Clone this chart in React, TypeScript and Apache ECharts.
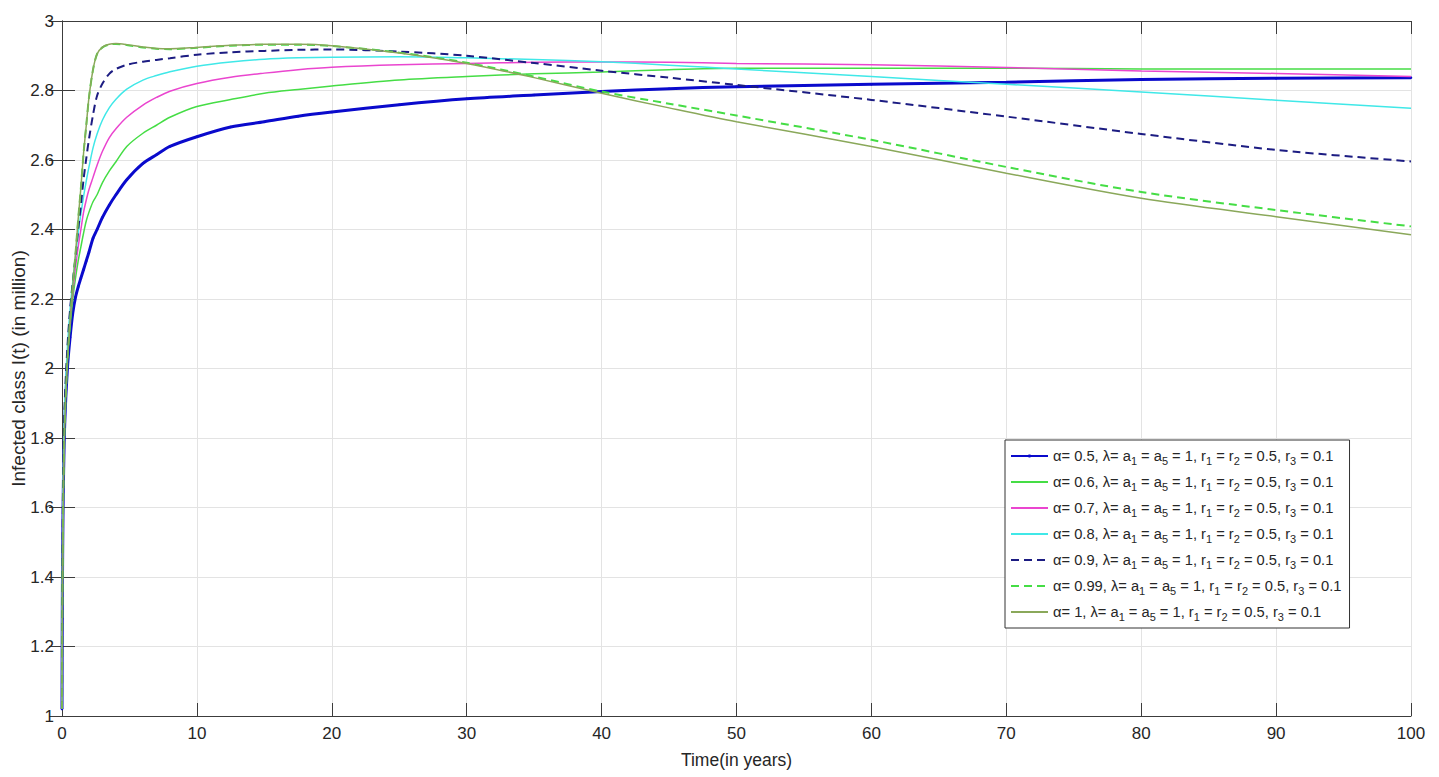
import React, { useEffect, useRef } from 'react';
import * as echarts from 'echarts';

// time (years)
const time = [0, 0.02, 0.05, 0.1, 0.2, 0.4, 0.6, 0.8, 1.0, 1.2, 1.4, 1.6, 1.8, 2.0, 2.3, 2.6, 3.0, 3.5, 4.0, 4.8, 6.0, 7.0, 8.0, 10, 12.5, 15, 17.5, 20, 25, 30, 35, 40, 45, 50, 60, 70, 80, 90, 100];

// Infected class I(t) (in million) per fractional order alpha
const alpha05 = [1.02, 1.28, 1.48, 1.66, 1.84, 2.00, 2.09, 2.16, 2.205, 2.235, 2.26, 2.285, 2.31, 2.335, 2.375, 2.40, 2.435, 2.47, 2.50, 2.543, 2.59, 2.615, 2.639, 2.667, 2.695, 2.71, 2.726, 2.738, 2.759, 2.776, 2.787, 2.797, 2.805, 2.811, 2.818, 2.824, 2.832, 2.835, 2.837];
const alpha06 = [1.02, 1.3, 1.5, 1.68, 1.86, 2.02, 2.12, 2.2, 2.26, 2.31, 2.35, 2.39, 2.425, 2.45, 2.48, 2.50, 2.535, 2.568, 2.595, 2.639, 2.677, 2.70, 2.723, 2.754, 2.774, 2.792, 2.803, 2.813, 2.83, 2.84, 2.848, 2.853, 2.86, 2.864, 2.864, 2.864, 2.862, 2.862, 2.862];
const alpha07 = [1.02, 1.3, 1.52, 1.7, 1.88, 2.04, 2.14, 2.22, 2.29, 2.35, 2.40, 2.45, 2.485, 2.515, 2.55, 2.585, 2.625, 2.664, 2.69, 2.723, 2.758, 2.78, 2.798, 2.82, 2.838, 2.85, 2.86, 2.867, 2.874, 2.878, 2.881, 2.882, 2.881, 2.878, 2.874, 2.866, 2.856, 2.849, 2.840];
const alpha08 = [1.02, 1.3, 1.52, 1.72, 1.9, 2.06, 2.17, 2.25, 2.32, 2.39, 2.445, 2.495, 2.54, 2.58, 2.635, 2.675, 2.715, 2.75, 2.775, 2.804, 2.83, 2.843, 2.854, 2.87, 2.882, 2.89, 2.894, 2.896, 2.897, 2.894, 2.889, 2.883, 2.873, 2.862, 2.84, 2.818, 2.796, 2.772, 2.749];
const alpha09 = [1.02, 1.3, 1.52, 1.72, 1.9, 2.06, 2.17, 2.25, 2.32, 2.40, 2.47, 2.545, 2.605, 2.66, 2.73, 2.785, 2.82, 2.848, 2.862, 2.874, 2.883, 2.888, 2.893, 2.903, 2.91, 2.914, 2.917, 2.918, 2.912, 2.90, 2.879, 2.857, 2.837, 2.816, 2.773, 2.725, 2.675, 2.629, 2.596];
const alpha099 = [1.02, 1.25, 1.45, 1.64, 1.84, 2.02, 2.14, 2.24, 2.33, 2.43, 2.52, 2.62, 2.70, 2.78, 2.86, 2.905, 2.924, 2.932, 2.934, 2.931, 2.924, 2.92, 2.919, 2.923, 2.929, 2.932, 2.932, 2.928, 2.909, 2.88, 2.84, 2.797, 2.762, 2.728, 2.658, 2.58, 2.508, 2.456, 2.409];
const alpha10 = [1.02, 1.25, 1.45, 1.64, 1.84, 2.02, 2.14, 2.24, 2.33, 2.43, 2.52, 2.62, 2.70, 2.78, 2.86, 2.905, 2.925, 2.933, 2.935, 2.932, 2.925, 2.921, 2.92, 2.924, 2.93, 2.933, 2.933, 2.929, 2.908, 2.878, 2.837, 2.792, 2.75, 2.71, 2.639, 2.562, 2.49, 2.437, 2.385];

const alphaLabels = ['0.5', '0.6', '0.7', '0.8', '0.9', '0.99', '1'];
const xAxisTitle = 'Time(in years)';
const yAxisTitle = 'Infected class I(t) (in million)';

const FONT = '"Liberation Sans", Arial, Helvetica, sans-serif';
const AXIS_COLOR = '#3c3c3c';
const TEXT_COLOR = '#262626';

export default function App() {
  const ref = useRef<HTMLDivElement>(null);

  useEffect(() => {
    if (!ref.current) return;
    const chart = echarts.init(ref.current, null, { renderer: 'svg' });

    const defs = [
      { data: alpha05, color: '#0a0acc', width: 3, dash: 'solid' as any, symbol: 'circle' },
      { data: alpha06, color: '#45dd45', width: 1.5, dash: 'solid' as any, symbol: 'none' },
      { data: alpha07, color: '#ea45cf', width: 1.5, dash: 'solid' as any, symbol: 'none' },
      { data: alpha08, color: '#40e8e8', width: 1.5, dash: 'solid' as any, symbol: 'none' },
      { data: alpha09, color: '#1c1c82', width: 2, dash: [8, 5] as any, symbol: 'none' },
      { data: alpha099, color: '#45dd45', width: 2, dash: [8, 5] as any, symbol: 'none' },
      { data: alpha10, color: '#8aa85a', width: 1.5, dash: 'solid' as any, symbol: 'none' },
    ];

    const series = defs.map((d, i) => ({
      name: 'α= ' + alphaLabels[i],
      type: 'line',
      xAxisIndex: 0,
      yAxisIndex: 0,
      data: time.map((t, k) => [t, d.data[k]]),
      smooth: 0.3,
      symbol: d.symbol,
      symbolSize: 2.5,
      showSymbol: d.symbol !== 'none',
      itemStyle: { color: d.color },
      lineStyle: { color: d.color, width: d.width, type: d.dash },
      z: 2 + i,
    }));

    const axisCommon = {
      axisLine: { show: true, lineStyle: { color: AXIS_COLOR, width: 1 } },
      axisTick: { show: true, inside: true, length: 13, lineStyle: { color: AXIS_COLOR, width: 1 } },
    };

    chart.setOption({
      animation: false,
      backgroundColor: '#ffffff',
      grid: { left: 62, top: 21, width: 1349, height: 695, containLabel: false, outerBoundsMode: 'none' },
      legend: {
        orient: 'vertical',
        left: 1005,
        top: 440,
        padding: [6, 8, 6, 5],
        itemWidth: 37,
        itemHeight: 4,
        itemGap: 6,
        borderColor: '#333333',
        borderWidth: 1,
        backgroundColor: '#ffffff',
        data: alphaLabels.map((a, i) =>
          i === 0
            ? { name: 'α= ' + a }
            : { name: 'α= ' + a, itemStyle: { opacity: 0 } }
        ),
        formatter: (name: string) =>
          name + ', λ= a{s|1} = a{s|5} = 1, r{s|1} = r{s|2} = 0.5, r{s|3} = 0.1',
        textStyle: {
          fontFamily: FONT,
          fontSize: 14.7,
          color: TEXT_COLOR,
          lineHeight: 20,
          rich: {
            s: { fontFamily: FONT, fontSize: 11, color: TEXT_COLOR, lineHeight: 12, verticalAlign: 'bottom' },
          },
        },
      },
      xAxis: [
        {
          type: 'value',
          min: 0,
          max: 100,
          interval: 10,
          position: 'bottom',
          name: xAxisTitle,
          nameLocation: 'middle',
          nameGap: 35,
          nameMoveOverlap: false,
          nameTextStyle: { fontFamily: FONT, fontSize: 17.5, color: TEXT_COLOR },
          ...axisCommon,
          axisLabel: { show: true, margin: 9, fontFamily: FONT, fontSize: 17, color: TEXT_COLOR },
          splitLine: { show: true, lineStyle: { color: '#e3e3e3', width: 1 } },
        },
        {
          type: 'value',
          min: 0,
          max: 100,
          interval: 10,
          position: 'top',
          ...axisCommon,
          axisLabel: { show: false },
          splitLine: { show: false },
        },
      ],
      yAxis: [
        {
          type: 'value',
          min: 1,
          max: 3,
          interval: 0.2,
          position: 'left',
          name: yAxisTitle,
          nameLocation: 'middle',
          nameRotate: 90,
          nameGap: 34,
          nameMoveOverlap: false,
          nameTextStyle: { fontFamily: FONT, fontSize: 19, color: TEXT_COLOR },
          ...axisCommon,
          axisLabel: {
            show: true,
            margin: 8,
            fontFamily: FONT,
            fontSize: 17,
            color: TEXT_COLOR,
            formatter: (v: number) => String(Math.round(v * 10) / 10),
          },
          splitLine: { show: true, lineStyle: { color: '#e3e3e3', width: 1 } },
        },
        {
          type: 'value',
          min: 1,
          max: 3,
          interval: 0.2,
          position: 'right',
          ...axisCommon,
          axisLabel: { show: false },
          splitLine: { show: false },
        },
      ],
      series,
    });

    return () => chart.dispose();
  }, []);

  return (
    <div
      ref={ref}
      style={{ position: 'fixed', left: 0, top: 0, width: '1439px', height: '777px', background: '#fff' }}
    />
  );
}
